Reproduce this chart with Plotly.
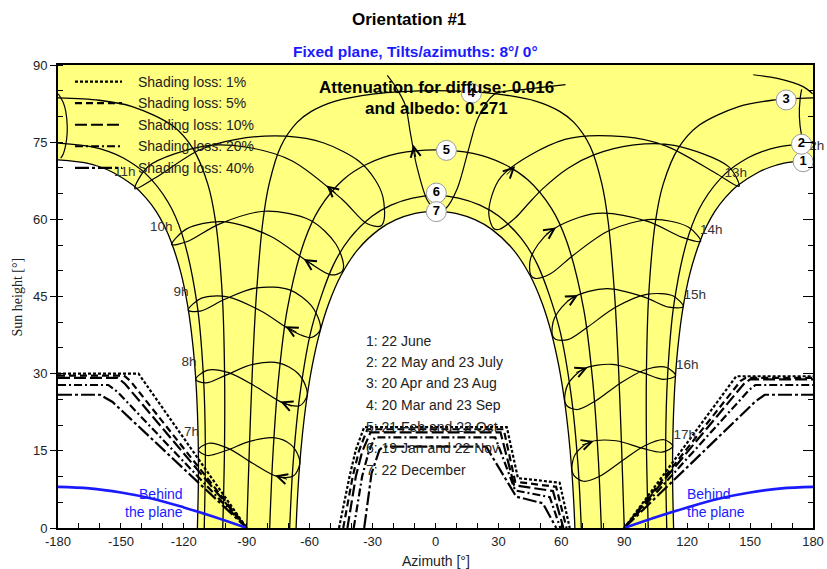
import plotly.graph_objects as go

# ---------------- axes ----------------
AZ_RANGE = [-180, 180]
H_RANGE = [0, 90]
AZ_TICKS = [-180, -150, -120, -90, -60, -30, 0, 30, 60, 90, 120, 150, 180]
H_TICKS = [0, 15, 30, 45, 60, 75, 90]

# ---------------- date curves (azimuth °, sun height °) ----------------
C1_LEFT_AZ = [-113.53, -113.07, -113.1, -113.53, -114.4, -115.87, -118.06, -121.3, -126.08, -129.3, -133.2, -138.08, -144.03, -153.94, -159.8, -166.17, -180.0]
C1_LEFT_H = [0.0, 8.86, 15.74, 22.61, 29.45, 36.24, 42.92, 49.44, 55.7, 58.69, 61.54, 64.17, 66.56, 69.16, 70.17, 70.94, 71.55]
C1_RIGHT_AZ = [113.53, 113.07, 113.1, 113.53, 114.4, 115.87, 118.06, 121.3, 126.08, 129.3, 133.2, 138.08, 144.03, 153.94, 159.8, 166.17, 180.0]
C1_RIGHT_H = [0.0, 8.86, 15.74, 22.61, 29.45, 36.24, 42.92, 49.44, 55.7, 58.69, 61.54, 64.17, 66.56, 69.16, 70.17, 70.94, 71.55]

C2_AZ = [-110.27, -109.73, -110.7, -113.76, -120.86, -127.56, -138.35, -149.04, -155.7, -163.2, -180.0, None,
         180.0, 163.2, 155.7, 149.04, 138.35, 127.56, 120.86, 113.76, 110.7, 109.73, 110.27]
C2_H = [0.0, 15.79, 29.84, 43.72, 57.12, 63.37, 68.93, 71.97, 73.16, 74.05, 74.8, None,
        74.8, 74.05, 73.16, 71.97, 68.93, 63.37, 57.12, 43.72, 29.84, 15.79, 0.0]

C3_AZ = [-101.44, -100.6, -100.58, -101.63, -104.9, -108.57, -115.8, -125.5, -144.6, -160.4, -180.0, None,
         180.0, 160.4, 144.6, 125.5, 115.8, 108.57, 104.9, 101.63, 100.58, 100.6, 101.44]
C3_H = [0.0, 15.66, 30.36, 45.06, 59.66, 66.85, 73.84, 78.23, 81.93, 83.15, 83.6, None,
        83.6, 83.15, 81.93, 78.23, 73.84, 66.85, 59.66, 45.06, 30.36, 15.66, 0.0]

C4_AZ = [-90.0, -88.8, -87.4, -85.5, -82.3, -79.27, -73.67, -66.0, -59.2, -48.1, -29.1, -15.5, 0.0,
         15.5, 29.1, 48.1, 59.2, 66.0, 73.67, 79.27, 82.3, 85.5, 87.4, 88.8, 90.0]
C4_H = [0.0, 14.94, 29.88, 44.76, 59.63, 66.99, 74.26, 78.84, 80.99, 82.94, 84.4, 84.84, 85.0,
        84.84, 84.4, 82.94, 80.99, 78.84, 74.26, 66.99, 59.63, 44.76, 29.88, 14.94, 0.0]

C5_AZ = [-79.07, -77.6, -75.05, -70.7, -62.5, -55.35, -44.0, -32.8, -17.9, 0.0,
         17.9, 32.8, 44.0, 55.35, 62.5, 70.7, 75.05, 77.6, 79.07]
C5_H = [0.0, 13.69, 28.21, 42.47, 55.8, 62.1, 67.7, 70.7, 72.8, 73.5,
        72.8, 70.7, 67.7, 62.1, 55.8, 42.47, 28.21, 13.69, 0.0]

C6_AZ = [-69.53, -67.96, -64.66, -58.92, -48.73, -40.8, -30.1, -21.2, -11.0, 0.0,
         11.0, 21.2, 30.1, 40.8, 48.73, 58.92, 64.66, 67.96, 69.53]
C6_H = [0.0, 12.19, 25.89, 39.04, 51.1, 56.33, 60.64, 62.76, 64.14, 64.6,
        64.14, 62.76, 60.64, 56.33, 51.1, 39.04, 25.89, 12.19, 0.0]

C7_AZ = [-66.47, -65.94, -64.89, -63.41, -61.43, -58.82, -55.4, -50.9, -44.98, -37.16, -26.99, -18.8, -9.7, -4.88, 0.0,
         4.88, 9.7, 18.8, 26.99, 37.16, 44.98, 50.9, 55.4, 58.82, 61.43, 63.41, 64.89, 65.94, 66.47]
C7_H = [0.0, 4.86, 11.65, 18.37, 24.98, 31.45, 37.7, 43.65, 49.18, 54.06, 58.0, 59.93, 61.14, 61.44, 61.55,
        61.44, 61.14, 59.93, 58.0, 54.06, 49.18, 43.65, 37.7, 31.45, 24.98, 18.37, 11.65, 4.86, 0.0]

# ---------------- hour lines (analemmas) ----------------
H7_AZ = [-64.78, -67.67, -75.13, -86.59, -98.84, -108.12, -113.07, -108.8, -99.77, -88.62, -77.25, -68.98, -65.1, -64.78]
H7_H = [12.31, 10.15, 9.97, 12.44, 15.48, 16.48, 15.17, 14.09, 15.06, 16.84, 17.55, 16.21, 13.7, 12.31]
H17_AZ = [65.0, 66.65, 73.79, 86.09, 98.84, 108.02, 113.13, 109.0, 99.77, 88.98, 78.55, 70.6, 65.98, 65.0]
H17_H = [11.41, 14.33, 16.71, 16.96, 15.48, 14.74, 15.9, 17.15, 16.0, 13.06, 10.11, 9.09, 10.24, 11.41]

H8_AZ = [-61.27, -64.51, -72.55, -84.99, -98.62, -108.97, -114.33, -109.58, -99.65, -87.19, -74.53, -65.53, -61.52, -61.27]
H8_H = [25.66, 23.82, 24.27, 27.31, 30.21, 30.64, 28.88, 28.2, 29.77, 31.79, 32.06, 30.03, 27.1, 25.66]
H16_AZ = [61.59, 63.11, 70.77, 84.37, 98.62, 108.75, 114.47, 109.98, 99.67, 87.61, 76.27, 67.73, 62.72, 61.59]
H16_H = [24.78, 27.92, 30.95, 31.81, 30.21, 28.9, 29.6, 31.24, 30.71, 28.01, 24.7, 23.03, 23.72, 24.78]

H9_AZ = [-55.13, -59.23, -68.48, -82.75, -99.23, -111.83, -117.9, -112.14, -100.44, -85.18, -69.54, -59.2, -55.1, -55.13]
H9_H = [38.39, 37.03, 38.34, 42.09, 44.94, 44.64, 42.33, 42.16, 44.48, 46.69, 46.29, 43.24, 39.84, 38.39]
H15_AZ = [55.67, 56.77, 65.24, 81.73, 99.23, 111.27, 118.22, 113.18, 100.69, 85.82, 72.68, 63.12, 57.2, 55.67]
H15_H = [37.57, 40.87, 44.76, 46.55, 44.94, 42.92, 43.03, 45.14, 45.42, 42.91, 39.11, 36.62, 36.68, 37.57]

H10_AZ = [-44.49, -49.74, -60.8, -78.86, -101.53, -118.66, -125.79, -118.35, -103.17, -81.59, -59.69, -47.59, -43.87, -44.49]
H10_H = [49.87, 49.2, 51.76, 56.77, 59.56, 58.15, 55.09, 55.68, 59.08, 61.57, 59.82, 55.25, 51.25, 49.87]
H14_AZ = [45.41, 45.45, 54.73, 76.83, 101.53, 117.38, 126.43, 120.7, 103.51, 82.88, 65.86, 54.59, 47.45, 45.41]
H14_H = [49.17, 52.56, 57.68, 61.16, 59.56, 56.53, 55.72, 58.48, 60.0, 57.82, 53.08, 49.36, 48.53, 49.17]

H11_AZ = [-26.23, -32.79, -44.57, -68.54, -89.9, -110.07, -136.86, -143.32, -133.95, -112.57, -94.98, -71.36, -53.23, -36.33, -28.78, -25.11, -24.53, -26.23]
H11_H = [58.68, 59.2, 63.91, 71.4, 74.01, 74.24, 70.31, 65.93, 67.97, 73.48, 75.56, 76.16, 74.84, 71.26, 67.7, 64.43, 59.86, 58.68]
H13_AZ = [27.75, 25.39, 31.38, 61.74, 89.72, 110.07, 133.46, 144.72, 139.91, 113.81, 94.72, 75.51, 63.22, 51.04, 43.8, 38.25, 30.51, 27.75]
H13_H = [58.22, 61.44, 68.28, 75.53, 76.06, 74.24, 69.0, 66.4, 70.2, 74.37, 74.46, 72.52, 69.94, 65.92, 62.83, 60.36, 58.07, 58.22]

H12_AZ = [62.0, 43.4, 28.1, 20.4, 15.9, 10.4, 4.9, 2.0, -0.65, -3.9, -9.2, -12.0, -14.5, -19.9, -23.0, None,
          174.6, 173.9, 173.5, 174.5, 176.7, 179.8, None,
          179.8, 175.3, 163.0, 151.5, None,
          -178.7, -177.5, -175.9, -175.6, -176.3, -177.5, -179.9]
H12_H = [86.2, 85.3, 84.3, 79.8, 73.8, 66.0, 62.1, 61.55, 62.0, 63.7, 70.8, 76.85, 82.3, 86.3, 88.0, None,
         85.25, 83.6, 80.0, 76.4, 73.0, 71.55, None,
         84.4, 85.8, 87.4, 88.1, None,
         71.9, 72.7, 75.55, 78.0, 81.0, 82.7, 84.4]

HOUR_LINES = [(H7_AZ, H7_H), (H8_AZ, H8_H), (H9_AZ, H9_H), (H10_AZ, H10_H), (H11_AZ, H11_H),
              (H12_AZ, H12_H), (H13_AZ, H13_H), (H14_AZ, H14_H), (H15_AZ, H15_H), (H16_AZ, H16_H), (H17_AZ, H17_H)]

HOUR_LABELS = ["7h", "8h", "9h", "10h", "11h", "12h", "13h", "14h", "15h", "16h", "17h"]
HOUR_LABEL_AZ = [-116.3, -117.5, -121.3, -130.8, -148.2, 180.0, 143.2, 131.5, 123.6, 120.0, 118.8]
HOUR_LABEL_H = [18.5, 32.1, 45.7, 58.3, 69.0, 74.1, 68.8, 57.9, 45.1, 31.5, 17.9]

# direction arrows on the hour lines (tip, tail)
ARROW_TIP_AZ = [-76.5, -74.0, -71.5, -62.8, -52.0, -10.6, 38.0, 57.5, 68.0, 72.5, 75.5]
ARROW_TIP_H = [10.2, 24.6, 39.2, 52.3, 66.6, 74.5, 70.3, 58.4, 45.3, 31.2, 16.9]
ARROW_TAIL_AZ = [-70.1, -67.85, -65.5, -57.2, -46.9, -9.26, 33.2, 52.0, 62.2, 66.4, 69.2]
ARROW_TAIL_H = [9.4, 23.55, 37.9, 50.84, 64.85, 71.8, 68.4, 56.9, 43.98, 30.1, 16.05]

# ---------------- date curve labels ----------------
DATE_IDS = ["1", "2", "3", "4", "5", "6", "7"]
DATE_ID_AZ = [175.3, 174.5, 167.2, 17.1, 5.2, 0.4, 0.4]
DATE_ID_H = [71.2, 74.6, 83.2, 84.5, 73.4, 65.1, 61.5]
DATE_TEXTS = ["1: 22 June", "2: 22 May and 23 July", "3: 20 Apr and 23 Aug", "4: 20 Mar and 23 Sep",
              "5: 21 Feb and 23 Oct", "6: 19 Jan and 22 Nov", "7: 22 December"]
DATE_TEXT_AZ = -34.3
DATE_TEXT_H = [36.4, 32.3, 28.1, 24.0, 19.7, 15.6, 11.3]

# ---------------- shading loss lines ----------------
LOSS_LABELS = ["Shading loss: 1%", "Shading loss: 5%", "Shading loss: 10%", "Shading loss: 20%", "Shading loss: 40%"]
LOSS_DASH = ["3px,2px", "7px,4px", "12px,4px", "8px,3px,2px,3px", "14px,3px,3px,3px"]
LOSS_AZ = [
    [-180, -141.6, -90, None, -46, -41, -38, -34, 34, 39.3, 59.2, 64, None, 90, 143.4, 180],
    [-180, -148.5, -145.5, -90, None, -44, -39.5, -36.5, -32.5, 32.5, 38, 57.5, 62.5, None, 90, 145.5, 148, 180],
    [-180, -151.5, -148, -90, None, -42, -38, -35, -31, 31, 37.5, 56, 61, None, 90, 147, 150, 180],
    [-180, -156, -151.5, -90, None, -39, -35, -32, -29, 28.5, 38, 54.5, 59.5, None, 90, 149.5, 152.5, 180],
    [-180, -160, -154, -90, None, -34, -30.5, -26.7, -25, 24.2, 38.5, 51.2, 57.6, None, 90, 152.5, 157, 180],
]
LOSS_H = [
    [30.0, 30.0, 0, None, 0, 10, 15.2, 19.6, 19.6, 9.7, 8.8, 0, None, 0, 29.5, 29.5],
    [29.6, 29.6, 28.6, 0, None, 0, 10, 15, 19.2, 19.2, 9.0, 8.0, 0, None, 0, 28.6, 29.2, 29.2],
    [29.2, 29.2, 28.0, 0, None, 0, 10, 14.8, 18.6, 18.6, 8.3, 7.2, 0, None, 0, 28.0, 28.9, 28.9],
    [27.8, 27.8, 26.4, 0, None, 0, 10, 14.6, 17.6, 17.6, 7.3, 6.0, 0, None, 0, 26.8, 27.8, 27.8],
    [25.9, 25.9, 24.5, 0, None, 0, 10.6, 15.2, 15.8, 15.8, 6.1, 4.8, 0, None, 0, 24.6, 25.9, 25.9],
]

# ---------------- behind the plane ----------------
BEHIND_AZ = [-180, -165, -150, -135, -120, -105, -90, None, 90, 105, 120, 135, 150, 165, 180]
BEHIND_H = [8.0, 7.7, 6.9, 5.7, 4.0, 2.1, 0, None, 0, 2.1, 4.0, 5.7, 6.9, 7.7, 8.0]

TITLE = "Orientation #1"
SUBTITLE = "Fixed plane, Tilts/azimuths: 8°/ 0°"
ATTEN_1 = "Attenuation for diffuse: 0.016"
ATTEN_2 = "and albedo: 0.271"

YELLOW = "#ffff80"
BLUE = "#1a1aff"
FONT = "Liberation Sans, Arial, sans-serif"

fig = go.Figure()

# yellow sun-band area
fill_x = [AZ_RANGE[0]] + C1_LEFT_AZ[::-1] + C7_AZ + C1_RIGHT_AZ + [AZ_RANGE[1]]
fill_y = [H_RANGE[1]] + C1_LEFT_H[::-1] + C7_H + C1_RIGHT_H + [H_RANGE[1]]
fig.add_trace(go.Scatter(x=fill_x, y=fill_y, mode="lines", fill="toself", fillcolor=YELLOW,
                         line=dict(width=0), hoverinfo="skip", showlegend=False))

line_style = dict(color="black", width=1.3, shape="spline", smoothing=0.9)
curves = [(C1_LEFT_AZ + [None] + C1_RIGHT_AZ, C1_LEFT_H + [None] + C1_RIGHT_H),
          (C2_AZ, C2_H), (C3_AZ, C3_H), (C4_AZ, C4_H), (C5_AZ, C5_H), (C6_AZ, C6_H), (C7_AZ, C7_H)]
for cx, cy in curves:
    fig.add_trace(go.Scatter(x=cx, y=cy, mode="lines", line=line_style, connectgaps=False,
                             hoverinfo="skip", showlegend=False))

for hx, hy in HOUR_LINES:
    fig.add_trace(go.Scatter(x=hx, y=hy, mode="lines", line=dict(color="black", width=1.2, shape="spline", smoothing=0.9),
                             connectgaps=False, hoverinfo="skip", showlegend=False))

for lx, ly, dash in zip(LOSS_AZ, LOSS_H, LOSS_DASH):
    fig.add_trace(go.Scatter(x=lx, y=ly, mode="lines", line=dict(color="black", width=2.2, dash=dash),
                             connectgaps=False, hoverinfo="skip", showlegend=False))

fig.add_trace(go.Scatter(x=BEHIND_AZ, y=BEHIND_H, mode="lines", yaxis="y2",
                         line=dict(color=BLUE, width=2.6, shape="spline"), connectgaps=False,
                         hoverinfo="skip", showlegend=False))

# hour labels
fig.add_trace(go.Scatter(x=HOUR_LABEL_AZ, y=HOUR_LABEL_H, mode="text", text=HOUR_LABELS,
                         textfont=dict(family=FONT, size=13.5, color="#333333"),
                         hoverinfo="skip", showlegend=False, cliponaxis=False))

# date curve number markers
fig.add_trace(go.Scatter(x=DATE_ID_AZ, y=DATE_ID_H, mode="markers+text",
                         text=["<b>%s</b>" % s for s in DATE_IDS], textposition="middle center",
                         marker=dict(size=20, color="white", line=dict(color="#9a9a9a", width=1)),
                         textfont=dict(family=FONT, size=13, color="black"),
                         hoverinfo="skip", showlegend=False, cliponaxis=False))

annotations = []
for tx, ty, sx, sy in zip(ARROW_TIP_AZ, ARROW_TIP_H, ARROW_TAIL_AZ, ARROW_TAIL_H):
    annotations.append(dict(x=tx, y=ty, ax=sx, ay=sy, xref="x", yref="y", axref="x", ayref="y", text="",
                            showarrow=True, arrowhead=5, arrowsize=2.0, arrowwidth=1, arrowcolor="black"))

for t, yv in zip(DATE_TEXTS, DATE_TEXT_H):
    annotations.append(dict(x=DATE_TEXT_AZ, y=yv, xref="x", yref="y", text=t, showarrow=False,
                            xanchor="left", yanchor="middle", font=dict(family=FONT, size=14, color="#222222")))

annotations.append(dict(x=0.4, y=85.6, xref="x", yref="y", text="<b>%s</b>" % ATTEN_1, showarrow=False,
                        font=dict(family=FONT, size=17, color="black")))
annotations.append(dict(x=0.4, y=81.45, xref="x", yref="y", text="<b>%s</b>" % ATTEN_2, showarrow=False,
                        font=dict(family=FONT, size=17, color="black")))

annotations.append(dict(x=-119.6, y=4.9, xref="x", yref="y", text="Behind<br>the plane", showarrow=False,
                        xanchor="right", align="right", font=dict(family=FONT, size=14, color=BLUE)))
annotations.append(dict(x=118.8, y=4.9, xref="x", yref="y", text="Behind<br>the plane", showarrow=False,
                        xanchor="left", align="left", font=dict(family=FONT, size=14, color=BLUE)))

# titles
annotations.append(dict(x=0.465, y=1.0975, xref="paper", yref="paper", text="<b>%s</b>" % TITLE, showarrow=False,
                        xanchor="center", yanchor="middle", font=dict(family=FONT, size=17, color="black")))
annotations.append(dict(x=0.474, y=1.03, xref="paper", yref="paper", text="<b>%s</b>" % SUBTITLE, showarrow=False,
                        xanchor="center", yanchor="middle", font=dict(family=FONT, size=15.5, color=BLUE)))
annotations.append(dict(x=-0.053, y=0.5, xref="paper", yref="paper", text="Sun height [°]", showarrow=False,
                        textangle=-90, xanchor="center", yanchor="middle",
                        font=dict(family="Liberation Serif, Times New Roman, serif", size=14, color="#222222")))
annotations.append(dict(x=0.5, y=-0.0706, xref="paper", yref="paper", text="Azimuth [°]", showarrow=False,
                        xanchor="center", yanchor="middle", font=dict(family=FONT, size=14, color="#222222")))

# manual legend
shapes = []
for i, (lab, dash) in enumerate(zip(LOSS_LABELS, LOSS_DASH)):
    yv = 0.964 - i * 0.0465
    shapes.append(dict(type="line", xref="paper", yref="paper", x0=0.0225, x1=0.0848, y0=yv, y1=yv,
                       line=dict(color="black", width=2.2, dash=dash), layer="above"))
    annotations.append(dict(x=0.1033, y=yv, xref="paper", yref="paper", text=lab, showarrow=False,
                            xanchor="left", yanchor="middle", font=dict(family=FONT, size=14, color="#222222")))

fig.update_layout(
    width=827, height=569,
    margin=dict(l=58, r=14, t=65, b=41, autoexpand=False),
    paper_bgcolor="white", plot_bgcolor="white",
    showlegend=False,
    xaxis=dict(range=AZ_RANGE, tickvals=AZ_TICKS, ticktext=[str(v) for v in AZ_TICKS], automargin=False,
               ticks="inside", ticklen=5, tickwidth=1, tickcolor="black",
               minor=dict(dtick=10, ticks="inside", ticklen=5, tickcolor="black"),
               showline=True, linewidth=2, linecolor="black", mirror=True, showgrid=False, zeroline=False,
               tickfont=dict(family=FONT, size=13, color="#222222")),
    yaxis=dict(range=H_RANGE, tickvals=H_TICKS, ticks="outside", ticklen=6, tickwidth=1, tickcolor="black",
               minor=dict(dtick=5, ticks="inside", ticklen=5, tickcolor="black"), automargin=False,
               showline=True, linewidth=2, linecolor="black", mirror=True, showgrid=False, zeroline=False,
               tickfont=dict(family=FONT, size=13, color="#222222")),
    yaxis2=dict(range=H_RANGE, overlaying="y", side="right", anchor="x", tickvals=H_TICKS, ticks="inside",
                ticklen=10, tickcolor="black", showticklabels=False, showgrid=False, zeroline=False,
                automargin=False,
                minor=dict(dtick=5, ticks="inside", ticklen=5, tickcolor="black"), showline=False),
    annotations=annotations,
    shapes=shapes,
)

# remove the default page margin so the 827x569 figure fills the window exactly
fig.write_html("out.html", config={"displayModeBar": False},
               post_script="document.body.style.margin='0px';"
                           "document.body.style.overflow='hidden';"
                           "document.documentElement.style.overflow='hidden';")
